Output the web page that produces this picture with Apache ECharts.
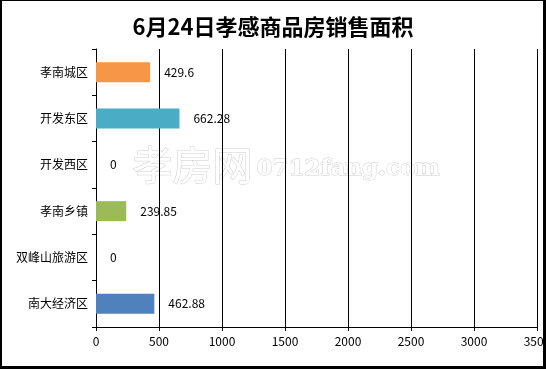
<!DOCTYPE html>
<html><head><meta charset="utf-8">
<script src="https://cdn.jsdelivr.net/npm/echarts@6/dist/echarts.min.js"></script>
<style>html,body{margin:0;padding:0;background:#fff}#c{width:546px;height:369px}</style>
</head><body><div id="c"></div>
<script>
const categories = ['南大经济区','双峰山旅游区','孝南乡镇','开发西区','开发东区','孝南城区'];
const values = [462.88, 0, 239.85, 0, 662.28, 429.6];
const barColors = ['#4F81BD','#4BACC6','#9BBB59','#4BACC6','#4BACC6','#F79646'];
const titleText = '6月24日孝感商品房销售面积';
const xMin = 0, xMax = 3500, xStep = 500;

const font = '"Noto Sans CJK SC", sans-serif';
const chart = echarts.init(document.getElementById('c'));
chart.setOption({
  animation: false,
  backgroundColor: '#fff',
  title: { text: titleText, left: 'center', top: 11,
    textStyle: { fontFamily: font, fontSize: 22, fontWeight: 'bold', color: '#000' } },
  grid: { left: 96, right: 9, top: 49, bottom: 42, containLabel: false, outerBoundsMode: 'none' },
  xAxis: { type: 'value', min: xMin, max: xMax, interval: xStep,
    axisLine: { show: true, lineStyle: { color: '#000', width: 1 } },
    axisTick: { show: true, length: 4, lineStyle: { color: '#000' } },
    axisLabel: { fontFamily: font, fontSize: 12, color: '#000', margin: 8,
      formatter: v => String(v), hideOverlap: false, showMaxLabel: true },
    splitLine: { show: true, lineStyle: { color: '#000', width: 1 } } },
  yAxis: { type: 'category', data: categories,
    axisLine: { show: true, lineStyle: { color: '#000', width: 1 } },
    axisTick: { show: true, length: 4, lineStyle: { color: '#000' } },
    axisLabel: { fontFamily: font, fontSize: 12, color: '#000', margin: 8 } },
  series: [{ type: 'bar', barWidth: 20,
    data: values.map((v, i) => ({ value: v, itemStyle: { color: barColors[i] } })),
    label: { show: true, position: 'right', distance: 14, color: '#000',
      fontFamily: font, fontSize: 12 } }],
  graphic: [
    { type: 'text', left: 132, top: 144, z: -10, silent: true,
      style: { text: '孝房网', fontSize: 40, fontFamily: font, fontWeight: 'normal',
        fill: '#fff', stroke: '#cfcfcf', lineWidth: 1 } },
    { type: 'text', left: 256, top: 157, z: -10, silent: true,
      style: { text: '0712fang.com', fontSize: 23, fontFamily: '"DejaVu Serif", serif', fontWeight: 'bold',
        fill: '#fff', stroke: '#cfcfcf', lineWidth: 1 } },
    { type: 'rect', z: 100, silent: true, shape: { x: 0, y: 0, width: 2, height: 369 }, style: { fill: '#000' } },
    { type: 'rect', z: 100, silent: true, shape: { x: 0, y: 0, width: 546, height: 1 }, style: { fill: '#000' } },
    { type: 'rect', z: 100, silent: true, shape: { x: 543, y: 0, width: 3, height: 369 }, style: { fill: '#000' } },
    { type: 'rect', z: 100, silent: true, shape: { x: 0, y: 366, width: 546, height: 3 }, style: { fill: '#000' } }
  ]
});
</script></body></html>
